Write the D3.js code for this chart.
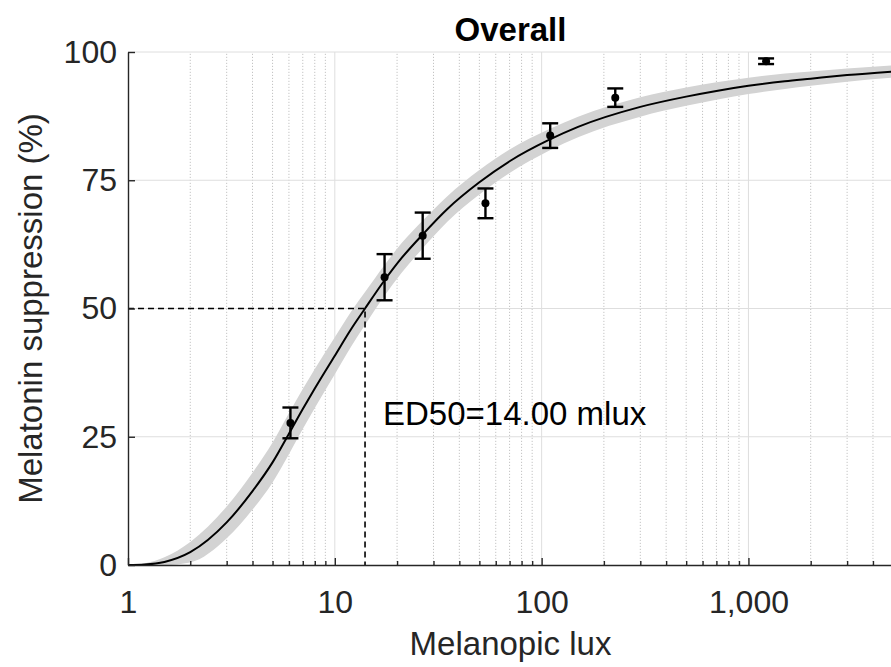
<!DOCTYPE html>
<html>
<head>
<meta charset="utf-8">
<script src="https://cdn.jsdelivr.net/npm/d3@7"></script>
<style>
	html, body { margin: 0; padding: 0; background: #fff; }
	svg { display: block; font-family: 'Liberation Sans', Arial, Helvetica, sans-serif; }
</style>
</head>
<body>
<div id="chart"></div>
<script>
// measured points (mean +/- error)
const pointLux = [6.1, 17.4, 26.6, 53.5, 110, 227, 1217];
const pointMean = [27.7, 56.1, 64.2, 70.5, 83.7, 91.1, 98.2];
const pointErr = [3.0, 4.5, 4.5, 2.9, 2.4, 1.8, 0.55];

// fitted curve with its confidence band
const fitLux = [1, 1.2, 1.5, 2, 3, 4, 5, 6, 7, 8, 10, 12, 14, 17.4, 21, 26.7, 35, 50, 70, 109, 150, 300, 500, 700, 1000, 1500, 2000, 3000, 5000];
const fitMean = [0, 0.1, 0.6, 2.5, 8.3, 14.4, 20.0, 25.6, 30.4, 34.4, 40.8, 46.0, 50.0, 55.5, 59.8, 64.5, 69.4, 74.6, 78.7, 82.9, 85.4, 89.3, 91.3, 92.4, 93.4, 94.3, 94.8, 95.5, 96.2];
const fitLower = [0, 0, 0, 0.5, 5.2, 10.8, 16.1, 21.6, 26.5, 30.6, 37.2, 42.6, 46.8, 52.5, 56.9, 61.8, 66.9, 72.2, 76.4, 80.8, 83.4, 87.4, 89.5, 90.7, 91.8, 92.8, 93.4, 94.2, 95.0];
const fitUpper = [0, 0.3, 1.5, 4.5, 11.4, 18.0, 23.9, 29.6, 34.3, 38.2, 44.4, 49.4, 53.2, 58.5, 62.7, 67.2, 71.9, 77.0, 81.0, 85.0, 87.4, 91.2, 93.1, 94.1, 95.0, 95.8, 96.2, 96.8, 97.4];

const ed50 = 14;
const ed50Label = 'ED50=14.00 mlux';

const xMajorTicks = [1, 10, 100, 1000];
const yTicks = [0, 25, 50, 75, 100];

const W = 891, H = 667;
const margin = { left: 128, right: -2, top: 52, bottom: 102 };

const svg = d3.select('#chart').append('svg').attr('width', W).attr('height', H);

const x = d3.scaleLog().domain([1, 5000]).range([margin.left, W - margin.right]);
const y = d3.scaleLinear().domain([0, 100]).range([H - margin.bottom, margin.top]);

// minor log ticks: 2..9 of each decade
const xMinorTicks = [];
[1, 10, 100, 1000].forEach(dec => {
	for (let k = 2; k <= 9; k++) if (dec * k < 5000) xMinorTicks.push(dec * k);
});

// grid
const grid = svg.append('g');
grid.selectAll('.xminor').data(xMinorTicks).enter().append('line')
	.attr('x1', d => x(d)).attr('x2', d => x(d))
	.attr('y1', y(0)).attr('y2', y(100))
	.attr('stroke', '#c4c4c4').attr('stroke-width', 1).attr('stroke-dasharray', '1.2,1.8');
grid.selectAll('.xmajor').data(xMajorTicks.slice(1)).enter().append('line')
	.attr('x1', d => x(d)).attr('x2', d => x(d))
	.attr('y1', y(0)).attr('y2', y(100))
	.attr('stroke', '#dedede').attr('stroke-width', 1);
grid.selectAll('.ymajor').data(yTicks.slice(1)).enter().append('line')
	.attr('x1', x(1)).attr('x2', W)
	.attr('y1', d => y(d)).attr('y2', d => y(d))
	.attr('stroke', '#dedede').attr('stroke-width', 1);

// confidence band + fitted line
const fitData = fitLux.map((l, i) => ({ lux: l, mean: fitMean[i], lo: fitLower[i], hi: fitUpper[i] }));
const area = d3.area().curve(d3.curveMonotoneX)
	.x(d => x(d.lux)).y0(d => y(d.lo)).y1(d => y(d.hi));
svg.append('path').datum(fitData).attr('fill', '#d3d3d3').attr('d', area);
const line = d3.line().curve(d3.curveMonotoneX)
	.x(d => x(d.lux)).y(d => y(d.mean));
svg.append('path').datum(fitData).attr('fill', 'none').attr('stroke', '#000').attr('stroke-width', 2).attr('d', line);

// ED50 guide lines
svg.append('path')
	.attr('d', `M${x(1)},${y(50)}H${x(ed50)}V${y(0)}`)
	.attr('fill', 'none').attr('stroke', '#000').attr('stroke-width', 1.6).attr('stroke-dasharray', '6,4');
svg.append('text').attr('x', x(ed50) + 18).attr('y', 425)
	.attr('font-size', 33).attr('fill', '#000').text(ed50Label);

// error bars
const pts = pointLux.map((l, i) => ({ lux: l, mean: pointMean[i], err: pointErr[i] }));
const eb = svg.append('g').attr('stroke', '#000').attr('stroke-width', 2.4);
eb.selectAll('.bar').data(pts).enter().append('line')
	.attr('x1', d => x(d.lux)).attr('x2', d => x(d.lux))
	.attr('y1', d => y(d.mean - d.err)).attr('y2', d => y(d.mean + d.err));
eb.selectAll('.capt').data(pts).enter().append('line')
	.attr('x1', d => x(d.lux) - 8).attr('x2', d => x(d.lux) + 8)
	.attr('y1', d => y(d.mean + d.err)).attr('y2', d => y(d.mean + d.err));
eb.selectAll('.capb').data(pts).enter().append('line')
	.attr('x1', d => x(d.lux) - 8).attr('x2', d => x(d.lux) + 8)
	.attr('y1', d => y(d.mean - d.err)).attr('y2', d => y(d.mean - d.err));
svg.selectAll('.dot').data(pts).enter().append('circle')
	.attr('cx', d => x(d.lux)).attr('cy', d => y(d.mean)).attr('r', 4).attr('fill', '#000');

// axes
const axisColor = '#262626';
svg.append('g').attr('transform', `translate(0,${y(0)})`)
	.call(d3.axisBottom(x).tickValues(xMajorTicks).tickFormat(d3.format(',')).tickSize(-7).tickSizeOuter(0).tickPadding(25));
svg.append('g').attr('transform', `translate(0,${y(0)})`)
	.call(d3.axisBottom(x).tickValues(xMinorTicks).tickFormat('').tickSize(-4).tickSizeOuter(0))
	.call(g => g.select('.domain').remove());
svg.append('g').attr('transform', `translate(${x(1)},0)`)
	.call(d3.axisLeft(y).tickValues(yTicks).tickSize(-7).tickSizeOuter(0).tickPadding(11));

svg.selectAll('.domain, .tick line').attr('stroke', axisColor).attr('stroke-width', 1.4);
svg.selectAll('.tick text').attr('font-size', 32).attr('fill', axisColor).attr('font-family', null);

// labels
svg.append('text').attr('x', (x(1) + x(5000)) / 2).attr('y', 41)
	.attr('text-anchor', 'middle').attr('font-size', 33).attr('font-weight', 'bold').attr('fill', '#000')
	.text('Overall');
svg.append('text').attr('x', (x(1) + x(5000)) / 2).attr('y', 655)
	.attr('text-anchor', 'middle').attr('font-size', 33).attr('fill', axisColor)
	.text('Melanopic lux');
svg.append('text').attr('transform', `translate(42,${(y(0) + y(100)) / 2}) rotate(-90)`)
	.attr('text-anchor', 'middle').attr('font-size', 33).attr('fill', axisColor)
	.text('Melatonin suppression (%)');
</script>
</body>
</html>
